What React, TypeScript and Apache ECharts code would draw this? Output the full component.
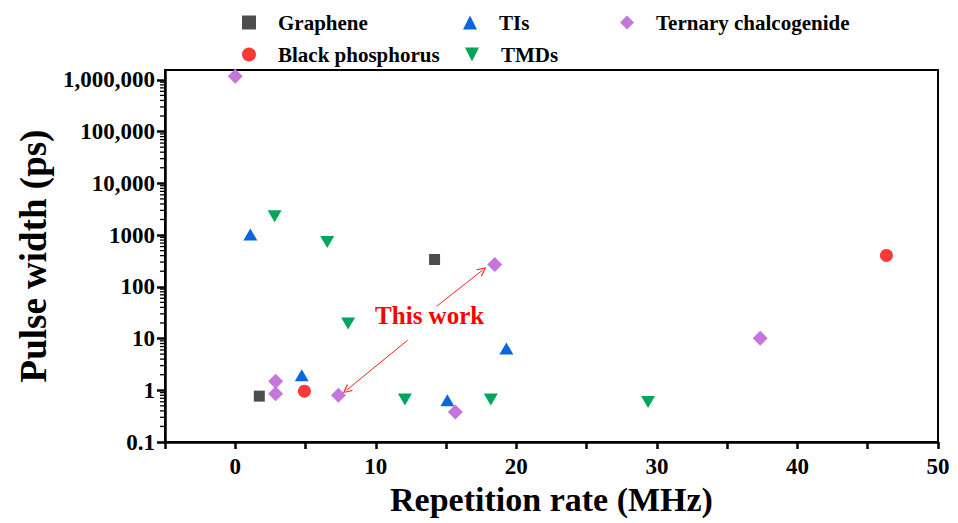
import React, { useEffect, useRef } from "react";
import * as echarts from "echarts";

const FONT = "'Liberation Serif', 'Times New Roman', serif";

const seriesNames = ["Graphene", "Black phosphorus", "TIs", "TMDs", "Ternary chalcogenide"];
const seriesColors = ["#4d4d4d", "#ff3838", "#0a66dc", "#00a65a", "#c476dc"];

const graphene = [[1.71, 0.77], [14.18, 337]];
const blackPhosphorus = [[4.92, 0.96], [46.33, 403]];
const tis = [[1.07, 1030], [4.73, 1.95], [15.09, 0.64], [19.29, 6.4]];
const tmds = [[2.8, 2320], [6.54, 738], [8.03, 19.5], [12.07, 0.66], [18.18, 0.66], [29.37, 0.59]];
const ternary = [[0.0, 1.18e6], [2.87, 1.49], [2.87, 0.86], [7.34, 0.8], [15.66, 0.38], [18.46, 270], [37.35, 10.1]];

const xTickLabels = ["0", "10", "20", "30", "40", "50"];
const yTickLabels: Record<string, string> = {
  "0.1": "0.1", "1": "1", "10": "10", "100": "100", "1000": "1000",
  "10000": "10,000", "100000": "100,000", "1000000": "1,000,000",
};
const minorMultipliers = [2, 3, 4, 5, 6, 7, 8, 9];
const minorDecades = [0.1, 1, 10, 100, 1000, 10000, 100000];

// "This work" annotation
const annotationText = [13.83, 28];
const arrow1 = [[12.26, 9.3], [7.91, 1.0]];
const arrow2 = [[14.33, 42], [17.6, 210]];

const chevron = "path://M5,0 L10,10 L8.6,10 L5,2.6 L1.4,10 L0,10 Z";

export default function App() {
  const ref = useRef<HTMLDivElement>(null);
  useEffect(() => {
    document.body.style.margin = "0";
    if (!ref.current) return;
    const chart = echarts.init(ref.current, null, { renderer: "svg" });

    const minorValues: number[][] = [];
    minorDecades.forEach((d) => minorMultipliers.forEach((m) => minorValues.push([-5, +(d * m).toPrecision(3)])));

    const symbols = ["rect", "circle", "triangle", "path://M0,0 L10,0 L5,10 Z", "diamond"];
    const sizes: any[] = [11, 13, [14, 12], [14, 12], 15];
    const datas = [graphene, blackPhosphorus, tis, tmds, ternary];

    const scatterSeries: any[] = seriesNames.map((name, i) => ({
      type: "scatter",
      name,
      data: datas[i],
      symbol: symbols[i],
      symbolSize: sizes[i],
      symbolKeepAspect: false,
      itemStyle: { color: seriesColors[i], opacity: 1 },
      z: 3,
    }));

    scatterSeries[4].markLine = {
      silent: true,
      symbol: ["none", chevron],
      symbolSize: [9, 9],
      lineStyle: { color: "#ff2020", width: 1, type: "solid" },
      label: { show: false },
      data: [
        [{ coord: arrow1[0] }, { coord: arrow1[1] }],
        [{ coord: arrow2[0] }, { coord: arrow2[1] }],
      ],
    };
    scatterSeries[4].markPoint = {
      silent: true,
      symbol: "circle",
      symbolSize: 1,
      itemStyle: { color: "rgba(0,0,0,0)" },
      label: {
        show: true,
        position: "inside",
        formatter: "This work",
        color: "#ff0000",
        fontFamily: FONT,
        fontWeight: "bold",
        fontSize: 25,
      },
      data: [{ coord: annotationText }],
    };

    const legendPos = [
      { left: 237, top: 7 },
      { left: 237, top: 39 },
      { left: 458, top: 7 },
      { left: 460, top: 39 },
      { left: 615, top: 7 },
    ];

    const legends = seriesNames.map((name, i) => ({
      data: [name],
      left: legendPos[i].left,
      top: legendPos[i].top,
      orient: "horizontal",
      itemWidth: 14,
      itemHeight: 14,
      selectedMode: false,
      textStyle: {
        fontFamily: FONT,
        fontWeight: "bold",
        fontSize: 21,
        color: "#000",
        padding: [0, 0, 0, 17],
      },
    }));

    chart.setOption({
      animation: false,
      backgroundColor: "#fff",
      legend: legends,
      grid: {
        left: 165,
        right: 20,
        top: 70,
        bottom: 81,
        show: true,
        borderColor: "#000",
        borderWidth: 2,
        containLabel: false,
      },
      xAxis: {
        type: "value",
        min: -5,
        max: 50,
        interval: 5,
        name: "Repetition rate (MHz)",
        nameLocation: "middle",
        nameGap: 37,
        nameTextStyle: { fontFamily: FONT, fontWeight: "bold", fontSize: 34, color: "#000" },
        axisLine: { show: true, onZero: false, lineStyle: { color: "#000", width: 2.5 } },
        axisTick: { show: true, inside: false, length: 7, lineStyle: { color: "#000", width: 2.5 } },
        axisLabel: {
          margin: 13,
          fontFamily: FONT,
          fontWeight: "bold",
          fontSize: 23,
          color: "#000",
          formatter: (v: number) => {
            const s = String(Math.round(v));
            return xTickLabels.includes(s) ? s : "";
          },
        },
        splitLine: { show: false },
      },
      yAxis: {
        type: "log",
        logBase: 10,
        min: 0.1,
        max: 1.55e6,
        name: "Pulse width (ps)",
        nameLocation: "middle",
        nameGap: 113,
        nameTextStyle: { fontFamily: FONT, fontWeight: "bold", fontSize: 37, color: "#000" },
        axisLine: { show: true, onZero: false, lineStyle: { color: "#000", width: 2.5 } },
        axisTick: { show: true, inside: false, length: 8, lineStyle: { color: "#000", width: 2.5 } },
        axisLabel: {
          margin: 10,
          fontFamily: FONT,
          fontWeight: "bold",
          fontSize: 23,
          color: "#000",
          showMaxLabel: false,
          formatter: (v: number) => {
            const k = String(+v.toPrecision(3));
            return yTickLabels[k] ?? "";
          },
        },
        splitLine: { show: false },
      },
      series: [
        ...scatterSeries,
        {
          type: "custom",
          name: "minorTicks",
          silent: true,
          clip: false,
          data: minorValues,
          renderItem: (params: any, api: any) => {
            const p = api.coord([api.value(0), api.value(1)]);
            return {
              type: "line",
              shape: { x1: p[0] - 5, y1: p[1], x2: p[0] - 1, y2: p[1] },
              style: { stroke: "#000", lineWidth: 1.3 },
            };
          },
          z: 1,
        },
      ],
    });
    return () => chart.dispose();
  }, []);
  return <div ref={ref} style={{ width: 958, height: 523 }} />;
}
